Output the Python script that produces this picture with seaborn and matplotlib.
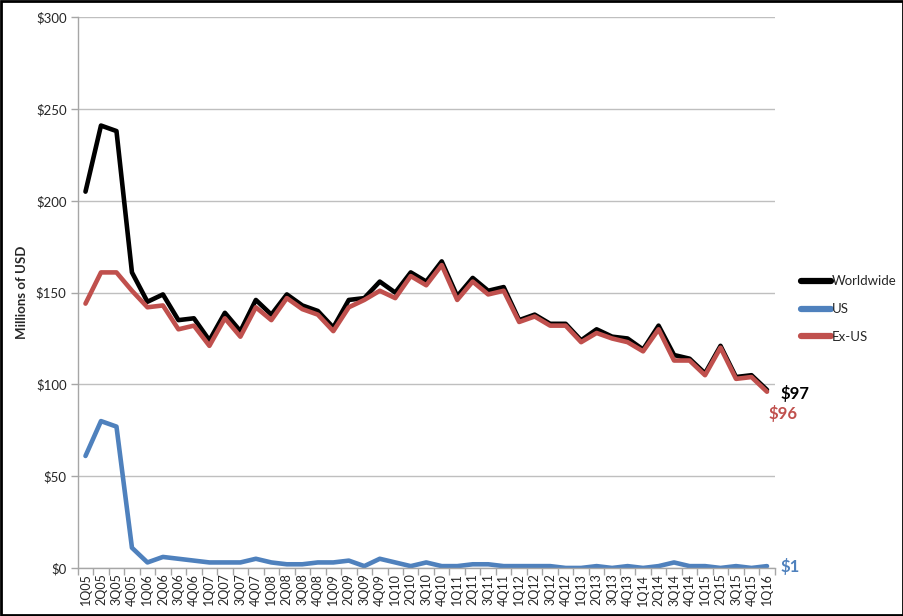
import numpy as np
import pandas as pd
import seaborn as sns
import matplotlib.pyplot as plt
from matplotlib.patches import Rectangle
from matplotlib.ticker import FixedLocator


quarters = ['1Q05', '2Q05', '3Q05', '4Q05',
            '1Q06', '2Q06', '3Q06', '4Q06',
            '1Q07', '2Q07', '3Q07', '4Q07',
            '1Q08', '2Q08', '3Q08', '4Q08',
            '1Q09', '2Q09', '3Q09', '4Q09',
            '1Q10', '2Q10', '3Q10', '4Q10',
            '1Q11', '2Q11', '3Q11', '4Q11',
            '1Q12', '2Q12', '3Q12', '4Q12',
            '1Q13', '2Q13', '3Q13', '4Q13',
            '1Q14', '2Q14', '3Q14', '4Q14',
            '1Q15', '2Q15', '3Q15', '4Q15',
            '1Q16']

worldwide = [205, 241, 238, 161, 145, 149, 135, 136, 124, 139, 129, 146,
             138, 149, 143, 140, 131, 146, 147, 156, 150, 161, 156, 167,
             148, 158, 151, 153, 135, 138, 133, 133, 124, 130, 126, 125,
             119, 132, 116, 114, 106, 121, 104, 105, 97]

us = [61, 80, 77, 11, 3, 6, 5, 4, 3, 3, 3, 5,
      3, 2, 2, 3, 3, 4, 1, 5, 3, 1, 3, 1,
      1, 2, 2, 1, 1, 1, 1, 0, 0, 1, 0, 1,
      0, 1, 3, 1, 1, 0, 1, 0, 1]

ex_us = [144, 161, 161, 151, 142, 143, 130, 132, 121, 136, 126, 142,
         135, 147, 141, 138, 129, 142, 146, 151, 147, 159, 154, 165,
         146, 156, 149, 151, 134, 137, 132, 132, 123, 128, 125, 123,
         118, 130, 113, 113, 105, 120, 103, 104, 96]

series_names = ['Worldwide', 'US', 'Ex-US']
colors = {'Worldwide': '#000000', 'US': '#4F81BD', 'Ex-US': '#C0504D'}
end_labels = {'Worldwide': '$97', 'US': '$1', 'Ex-US': '$96'}

df = pd.DataFrame({'quarter': quarters, 'Worldwide': worldwide, 'US': us, 'Ex-US': ex_us})
df['pos'] = np.arange(len(quarters))
long_df = df.melt(id_vars=['quarter', 'pos'], value_vars=series_names,
                  var_name='series', value_name='value')

sns.set_style('white')
plt.rcParams['font.family'] = ['Lato', 'DejaVu Sans']

fig = plt.figure(figsize=(9.04, 6.16), dpi=100)
ax = fig.add_axes([0.086, 0.078, 0.771, 0.894])

sns.lineplot(data=long_df, x='pos', y='value', hue='series', hue_order=series_names,
             palette=colors, linewidth=3.3, ax=ax, legend=True)

n = len(quarters)
ax.set_xlim(-0.5, n - 0.5)
ax.set_ylim(0, 300)
ax.set_yticks(range(0, 301, 50))
ax.set_yticklabels(['$' + str(v) for v in range(0, 301, 50)], fontsize=9.5)
ax.set_xticks(range(n))
ax.set_xticklabels(quarters, rotation=90, fontsize=9)
ax.xaxis.set_minor_locator(FixedLocator(np.arange(-0.5, n, 1)))
ax.tick_params(axis='x', which='major', length=0, pad=4)
ax.tick_params(axis='x', which='minor', length=5, color='#A6A6A6', width=1, bottom=True)
ax.tick_params(axis='y', which='major', length=5, color='#A6A6A6', width=1, left=True, pad=3)

ax.grid(axis='y', color='#BFBFBF', linewidth=1)
ax.set_axisbelow(True)
for side in ['top', 'right']:
    ax.spines[side].set_visible(False)
for side in ['left', 'bottom']:
    ax.spines[side].set_color('#A6A6A6')
    ax.spines[side].set_linewidth(1)

ax.set_xlabel('')
ax.set_ylabel('Millions of USD', fontsize=9.5, fontweight='bold', labelpad=6)

# value labels at the right end
ax.text(n - 0.5 + 0.4, worldwide[-1] - 2, end_labels['Worldwide'], color=colors['Worldwide'],
        fontsize=12, fontweight='bold', va='center', ha='left')
ax.text(n - 1 + 0.1, ex_us[-1] - 12, end_labels['Ex-US'], color=colors['Ex-US'],
        fontsize=12, fontweight='bold', va='center', ha='left')
ax.text(n - 0.5 + 0.4, us[-1], end_labels['US'], color=colors['US'],
        fontsize=12, fontweight='bold', va='center', ha='left')
for t in ax.texts:
    t.set_clip_on(False)

leg = ax.legend(loc='center left', bbox_to_anchor=(1.02, 0.47), frameon=False,
                fontsize=9.5, handlelength=2.3, handletextpad=0.1, labelspacing=1.2)
for line in leg.get_lines():
    line.set_linewidth(4.5)

fig.patches.append(Rectangle((0.001, 0.001), 0.998, 0.997, transform=fig.transFigure,
                             fill=False, edgecolor='black', linewidth=2))

fig.savefig('out.png', dpi=100)
